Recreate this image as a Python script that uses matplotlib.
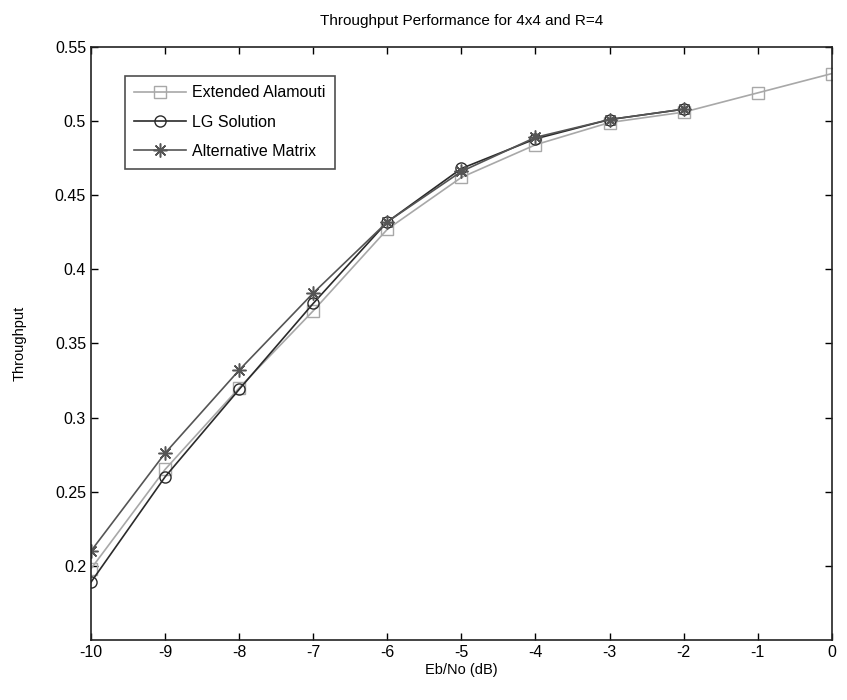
import matplotlib
matplotlib.use("Agg")
import matplotlib.pyplot as plt

plt.rcParams['font.family'] = ['Liberation Sans', 'DejaVu Sans']

x_ext = [-10, -9, -8, -7, -6, -5, -4, -3, -2, -1, 0]
y_ext = [0.198, 0.265, 0.320, 0.372, 0.427, 0.462, 0.484, 0.499, 0.506, 0.519, 0.532]

x_lg = [-10, -9, -8, -7, -6, -5, -4, -3, -2]
y_lg = [0.189, 0.260, 0.319, 0.377, 0.432, 0.468, 0.488, 0.501, 0.508]

x_alt = [-10, -9, -8, -7, -6, -5, -4, -3, -2]
y_alt = [0.210, 0.276, 0.332, 0.384, 0.432, 0.466, 0.489, 0.501, 0.508]

xticks = [-10, -9, -8, -7, -6, -5, -4, -3, -2, -1, 0]
yticks = [0.2, 0.25, 0.3, 0.35, 0.4, 0.45, 0.5, 0.55]
ytick_labels = ['0.2', '0.25', '0.3', '0.35', '0.4', '0.45', '0.5', '0.55']

fig = plt.figure(figsize=(8.47, 7.0), dpi=100)
ax = fig.add_axes([0.1074, 0.0857, 0.8747, 0.8473])

ax.plot(x_ext, y_ext, color='#a8a8a8', lw=1.2, marker='s', ms=8, mfc='none', mec='#a8a8a8', label='Extended Alamouti')
ax.plot(x_lg, y_lg, color='#2a2a2a', lw=1.2, marker='o', ms=8, mfc='none', mec='#2a2a2a', label='LG Solution')
ax.plot(x_alt, y_alt, color='#555555', lw=1.2, marker=(8, 2, 0), ms=10, mfc='#555555', mec='#555555', mew=1.1,
        label='Alternative Matrix')

ax.set_xlim(-10, 0)
ax.set_ylim(0.15, 0.55)
ax.set_xticks(xticks)
ax.set_xticklabels([str(v) for v in xticks])
ax.set_yticks(yticks)
ax.set_yticklabels(ytick_labels)
ax.tick_params(direction='in', top=True, right=True, labelsize=11.5, length=5, width=1)
for s in ax.spines.values():
    s.set_linewidth(1.2)
    s.set_color('#222222')

ax.set_title('Throughput Performance for 4x4 and R=4', fontsize=11, pad=16)
ax.set_xlabel('Eb/No (dB)', fontsize=10.5, labelpad=2)
ax.set_ylabel('Throughput', fontsize=10.5, labelpad=20)

leg = ax.legend(loc='upper left', bbox_to_anchor=(0.035, 0.965), fontsize=11.5, frameon=True,
                fancybox=False, edgecolor='#222222', borderpad=0.6, handlelength=3.2,
                labelspacing=0.9, handletextpad=0.4)
leg.get_frame().set_linewidth(1.2)

fig.savefig('out.png', dpi=100)
